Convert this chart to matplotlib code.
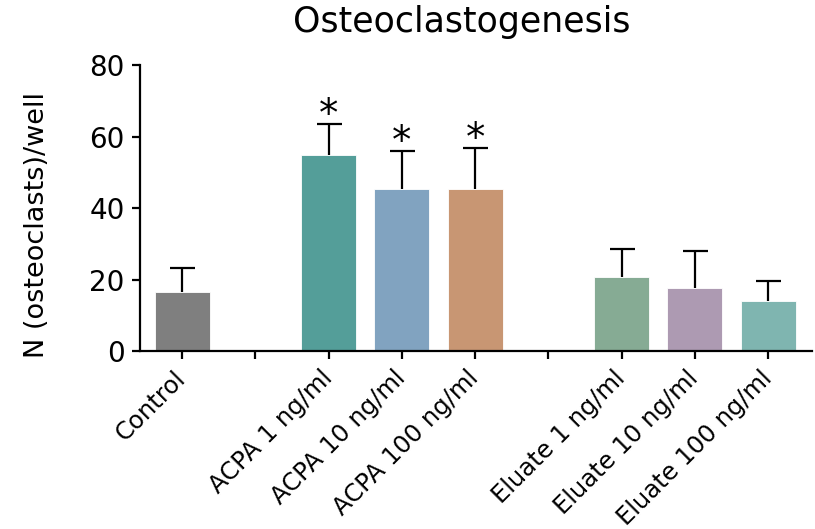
import matplotlib.pyplot as plt
import numpy as np

# group means and upper SD, blank slots separate the groups
labels = ['Control', '', 'ACPA 1 ng/ml', 'ACPA 10 ng/ml', 'ACPA 100 ng/ml', '',
          'Eluate 1 ng/ml', 'Eluate 10 ng/ml', 'Eluate 100 ng/ml']
means = [16.5, 0, 54.8, 45.3, 45.3, 0, 20.8, 17.6, 14.0]
sds = [6.8, 0, 8.6, 10.7, 11.5, 0, 7.6, 10.3, 5.6]
signif = [False, False, True, True, True, False, False, False, False]
colors = ['#7f7f7f', 'none', '#549e99', '#81a3c0', '#c89673', 'none',
          '#86ab94', '#ad9ab2', '#7fb5b0']
has_bar = [True, False, True, True, True, False, True, True, True]

plt.rcParams['font.family'] = 'DejaVu Sans'

fig = plt.figure(figsize=(8.15, 5.29), dpi=100)
ax = fig.add_axes([0.1718, 0.3365, 0.8245, 0.5405])

x = np.arange(len(labels))
idx = [i for i in x if has_bar[i]]
bx = [x[i] for i in idx]
by = [means[i] for i in idx]
ax.bar(bx, by, width=0.75, color=[colors[i] for i in idx],
       edgecolor='white', linewidth=0.6, zorder=2)
# upper error only, hide the cap sitting on the bar top
_, caps, _ = ax.errorbar(bx, by, yerr=[np.zeros(len(idx)), [sds[i] for i in idx]],
                         fmt='none', ecolor='black', elinewidth=1.6,
                         capsize=9, capthick=1.6, zorder=3)
caps[0].set_visible(False)

for i in x:
    if signif[i]:
        ax.annotate('*', (x[i], means[i] + sds[i]), xytext=(0, -1.5),
                    textcoords='offset points', ha='center', va='baseline',
                    fontsize=28, color='black')

ax.set_xlim(-0.575, 8.6)
ax.set_ylim(0, 80)
ax.set_yticks([0, 20, 40, 60, 80])
ax.set_xticks(x)
ax.set_xticklabels(labels, rotation=45, ha='right', va='center', rotation_mode='anchor')

for side in ['top', 'right']:
    ax.spines[side].set_visible(False)
for side in ['left', 'bottom']:
    ax.spines[side].set_linewidth(1.6)
ax.tick_params(axis='y', labelsize=20, width=1.6, length=6, pad=5)
ax.tick_params(axis='x', labelsize=17.5, width=1.6, length=6, pad=11)

fig.text(0.567, 0.958, 'Osteoclastogenesis', ha='center', va='center', fontsize=25)
fig.text(0.046, 0.575, 'N (osteoclasts)/well', ha='center', va='center',
         rotation=90, fontsize=19.5)

fig.savefig('out.png', dpi=100)
